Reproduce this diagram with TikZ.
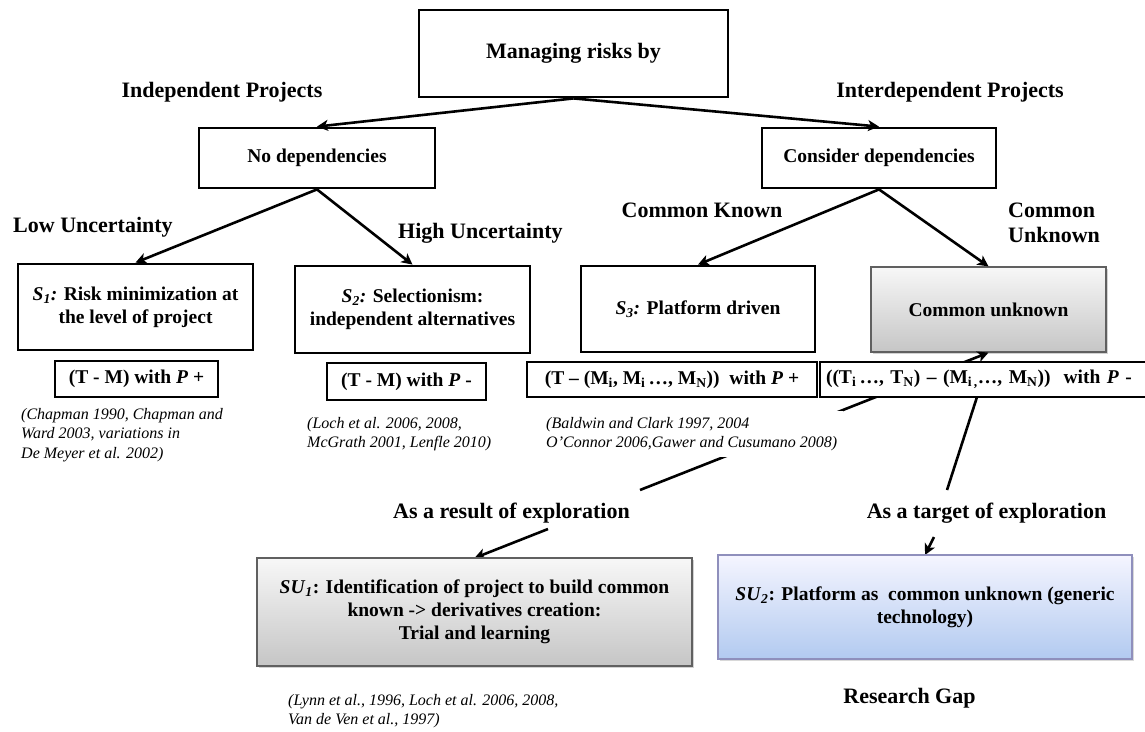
\documentclass[tikz,border=0pt]{standalone}
\usepackage{fontspec}
\setmainfont{Liberation Serif}
\usetikzlibrary{arrows.meta,shadows,calc}
\tikzset{
  bx/.style={draw=black, line width=2.8pt, fill=white, align=center, inner sep=0pt,
    font=\bfseries\fontsize{19.5}{23}\selectfont},
  lbl/.style={font=\bfseries\fontsize{22}{25}\selectfont, inner sep=0pt, align=center},
  cite/.style={font=\itshape\fontsize{16}{19.5}\selectfont, inner sep=0pt, align=left, anchor=north west},
  conn/.style={line width=2.6pt, -{Stealth[length=11pt,width=11pt,inset=3pt]}},
  plain/.style={line width=2.6pt},
  grayb/.style={draw=gray!75!black, line width=1.2pt, top color=gray!6, bottom color=gray!45,
    drop shadow={opacity=0.35, shadow xshift=1.5pt, shadow yshift=-2pt}},
  blueb/.style={draw=blue!25!gray!70, line width=1.2pt, top color=blue!4!white, bottom color={rgb,255:red,178;green,202;blue,240},
    drop shadow={opacity=0.3, shadow xshift=1.5pt, shadow yshift=-2pt}},
}
\begin{document}
\begin{tikzpicture}[x=1pt,y=-1pt]
\useasboundingbox[fill=white] (0,0) rectangle (1145,731);

% connectors drawn first so white boxes hide parts
\coordinate (lstart) at (640,490);
\coordinate (tA) at (977,397);
\coordinate (tB) at (947,490);
\coordinate (rA) at (548,529);
\coordinate (tC) at (934,537);

% boxes
\node[bx, minimum width=309pt, minimum height=87pt, font=\bfseries\fontsize{22}{25}\selectfont] (top) at (573.5,53.5) {Managing risks by};
\node[bx, minimum width=236pt, minimum height=60pt] (nodep) at (317,158) {No dependencies};
\node[bx, minimum width=234pt, minimum height=60pt] (consider) at (879,158) {Consider dependencies};

\node[bx, minimum width=235pt, minimum height=86pt] (s1) at (135.5,307)
  {\textit{S}\textsubscript{\textit{1}}\textit{:} Risk minimization at\\the level of project};
\node[bx, minimum width=235pt, minimum height=87pt] (s2) at (412.5,309.5)
  {\textit{S}\textsubscript{\textit{2}}\textit{:} Selectionism:\\independent alternatives};
\node[bx, minimum width=234pt, minimum height=86pt] (s3) at (698,309)
  {\textit{S}\textsubscript{\textit{3}}\textit{:} Platform driven};
\node[bx, grayb, minimum width=235pt, minimum height=85pt] (cu) at (988.5,309.5) {Common unknown};

% connectors
\draw[conn] (top.south) -- (nodep.north);
\draw[conn] (top.south) -- (consider.north);
\draw[conn] (nodep.south) -- (s1.north);
\draw[conn] (nodep.south) -- (s2.north);
\draw[conn] (consider.south) -- (s3.north);
\draw[conn] (consider.south) -- (cu.north);
\draw[conn] (lstart) -- (cu.south);
\draw[plain] (tA) -- (tB);
\draw[conn] (rA) -- (474.5,558) coordinate (su1top);
\draw[conn] (tC) -- (925,555) coordinate (su2top);

% formula boxes
\node[bx, minimum width=163pt, minimum height=36pt] (f1) at (136.5,379) {(T - M) with \textit{P} +};
\node[bx, minimum width=159pt, minimum height=37pt] (f2) at (406.5,381.5) {(T - M) with \textit{P} -};
\node[bx, minimum width=290pt, minimum height=35pt] (f3) at (672,379.5)
  {(T – (M\textsubscript{i}, M\textsubscript{i}\,…, M\textsubscript{N}))\ \ with \textit{P} +};
\node[bx, minimum width=330pt, minimum height=35pt, text width=318pt, align=left] (f4) at (985,379.5)
  {((T\textsubscript{i}\,…, T\textsubscript{N}) – (M\textsubscript{i\,,}…, M\textsubscript{N}))\ \ with \textit{P} -};

% labels
\node[lbl] (indep) at (222,92) {Independent Projects};
\node[lbl] (interdep) at (950,92) {Interdependent Projects};
\node[lbl, anchor=west] (low) at (13,227) {Low Uncertainty};
\node[lbl, anchor=west] (high) at (398,233) {High Uncertainty};
\node[lbl] (ck) at (702,210) {Common Known};
\node[lbl, anchor=west, align=left] (cunk) at (1008,222.5) {Common\\Unknown};
\node[lbl] (result) at (511.5,513) {As a result of exploration};
\node[lbl] (target) at (986.5,513) {As a target of exploration};
\node[lbl] (gap) at (909.5,698) {Research Gap};

% citations
\node[cite] (c1) at (21,408) {(Chapman 1990, Chapman and\\Ward 2003, variations in\\De Meyer et al. 2002)};
\node[cite] (c2) at (307,417) {(Loch et al. 2006, 2008,\\McGrath 2001, Lenfle 2010)};
\node[cite, fill=white, inner sep=6pt] (c3) at (540,411) {(Baldwin and Clark 1997, 2004\\O’Connor 2006,Gawer and Cusumano 2008)};
\node[cite] (c4) at (288,694) {(Lynn et al., 1996, Loch et al. 2006, 2008,\\Van de Ven et al., 1997)};

% bottom boxes
\node[bx, grayb, minimum width=435pt, minimum height=108pt] (su1) at (474.5,612)
  {\textit{SU}\textsubscript{\textit{1}}: Identification of project to build common\\known -> derivatives creation:\\Trial and learning};
\node[bx, blueb, minimum width=414pt, minimum height=104pt] (su2) at (925,607)
  {\textit{SU}\textsubscript{\textit{2}}: Platform as\ \ common unknown (generic\\technology)};
\end{tikzpicture}
\end{document}
